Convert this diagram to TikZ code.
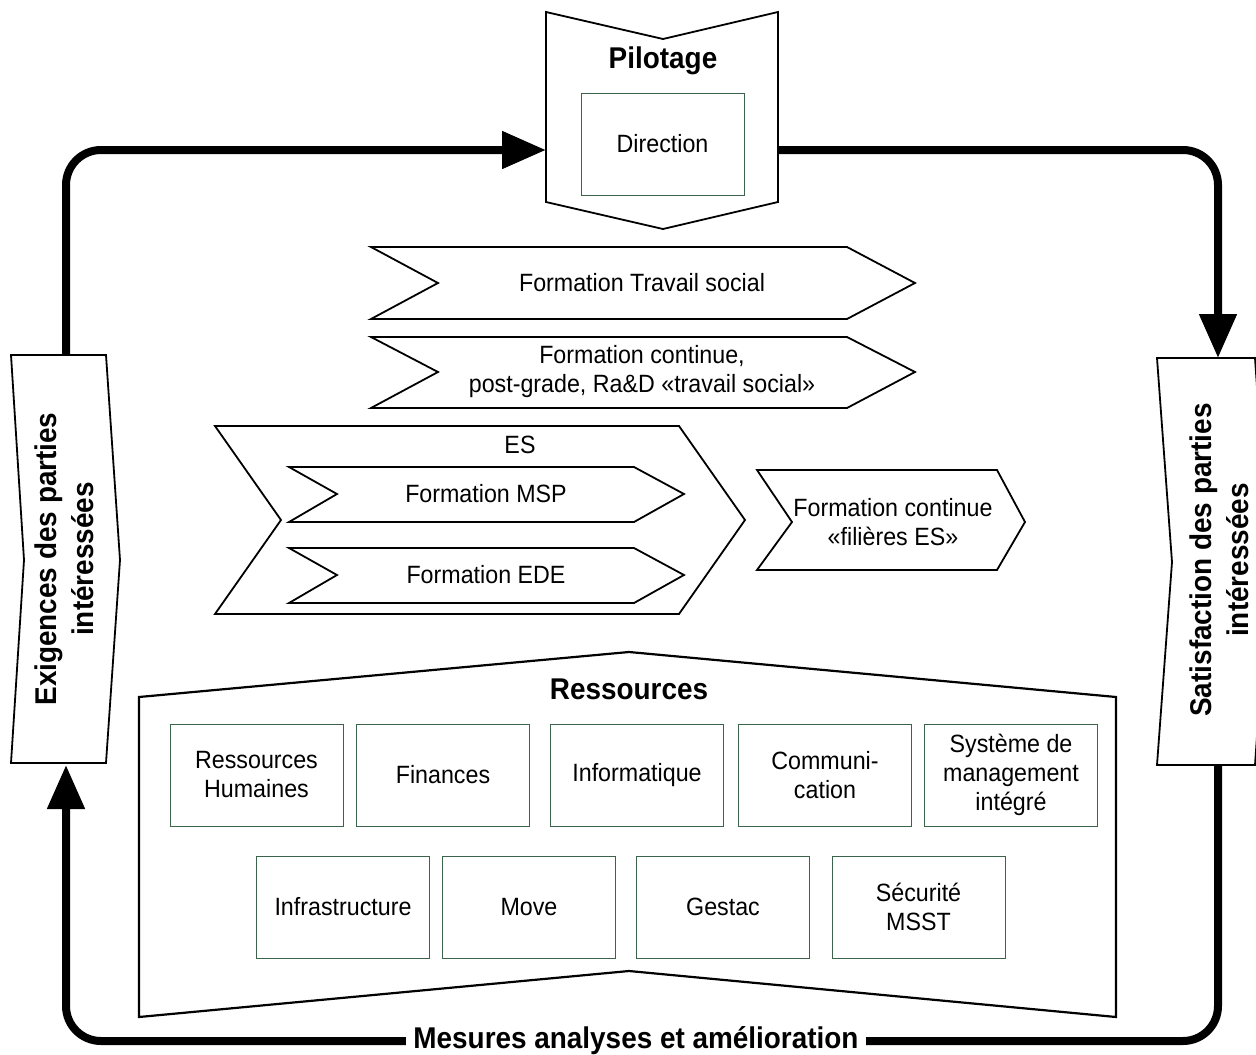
\documentclass[tikz,border=0pt]{standalone}
\usepackage{fontspec}
\setmainfont{Liberation Sans}
\usetikzlibrary{arrows.meta}
\definecolor{boxgreen}{RGB}{60,100,75}
\begin{document}
\begin{tikzpicture}[x=1pt,y=-1pt,
  shp/.style={draw=black,line width=1.8pt,line join=miter,fill=white},
  txt/.style={font=\fontsize{25}{29}\selectfont,align=center,inner sep=0pt,xscale=0.93,transform shape},
  ttl/.style={font=\bfseries\fontsize{30}{37}\selectfont,align=center,inner sep=0pt,xscale=0.93,transform shape},
  rbox/.style={draw=boxgreen,line width=1pt,minimum width=173pt,minimum height=102pt,inner sep=0pt},
  loopline/.style={line width=8pt,rounded corners=35pt},
  tipend/.style={-{Triangle[length=44pt,width=36pt]}}
]
\useasboundingbox (0,0) rectangle (1256,1055);

% side boxes
\draw[shp] (11,355)--(106,355)--(120,560)--(106,763)--(11,763)--(24,560)--cycle;
\node[rotate=90,ttl] (exig) at (64,559) {Exigences des parties\\intéressées};
\draw[shp] (1157,358)--(1255,358)--(1269,562)--(1255,765)--(1157,765)--(1172,562)--cycle;
\node[rotate=90,ttl] (satis) at (1219,560) {Satisfaction des parties\\intéressées};

% Pilotage
\draw[shp] (546,12)--(663,39)--(778,12)--(778,202)--(663,229)--(546,202)--cycle;
\node[ttl] (pil) at (663,61) {Pilotage};
\node[rbox,minimum width=163pt] (dir) at (662.5,144) {};
\node[txt] (dirt) at (dir.center) {Direction};

% chevrons
\draw[shp] (371,247)--(847,247)--(915,283)--(847,319)--(371,319)--(438,283)--cycle;
\node[txt] (fts) at (642,283) {Formation Travail social};
\draw[shp] (371,337)--(847,337)--(915,372)--(847,408)--(371,408)--(438,372)--cycle;
\node[txt] (fcp) at (642,372) {Formation continue,\\post-grade, Ra\&D «travail social»};

\draw[shp] (215,426)--(679,426)--(745,520)--(679,614)--(215,614)--(281,520)--cycle;
\node[txt] (es) at (520,445) {ES};
\draw[shp] (289,467)--(634,467)--(684,494)--(634,522)--(289,522)--(337,494)--cycle;
\node[txt] (msp) at (486,494) {Formation MSP};
\draw[shp] (289,548)--(634,548)--(684,575)--(634,603)--(289,603)--(337,575)--cycle;
\node[txt] (ede) at (486,575) {Formation EDE};

\draw[shp] (757,470)--(997,470)--(1025,522)--(997,570)--(757,570)--(792,522)--cycle;
\node[txt] (fces) at (893,522) {Formation continue\\«filières ES»};

% Ressources
\draw[shp,line width=2.2pt] (139,697)--(629,652)--(1116,697)--(1116,1017)--(629,971)--(139,1017)--cycle;
\node[ttl] (res) at (629,689) {Ressources};
\node[rbox] (rh)   at (256.5,775) {};
\node[rbox] (fin)  at (443,775) {};
\node[rbox] (info) at (637,775) {};
\node[rbox] (com)  at (825,775) {};
\node[rbox] (smi)  at (1011,775) {};
\node[rbox] (infra) at (343,907) {};
\node[rbox] (move) at (529,907) {};
\node[rbox] (gest) at (723,907) {};
\node[rbox] (secu) at (918.5,907) {};
\node[txt] at (rh.center) {Ressources\\Humaines};
\node[txt] at (fin.center) {Finances};
\node[txt] at (info.center) {Informatique};
\node[txt] at (com.center) {Communi-\\cation};
\node[txt] at (smi.center) {Système de\\management\\intégré};
\node[txt] at (infra.center) {Infrastructure};
\node[txt] at (move.center) {Move};
\node[txt] at (gest.center) {Gestac};
\node[txt] at (secu.center) {Sécurité\\MSST};

% loop
\node[ttl,inner xsep=8pt] (mes) at (636,1041) {Mesures analyses et amélioration};
\coordinate (lbTop) at (66,355);
\coordinate (lbBot) at (66,765);
\coordinate (rbTop) at (1218,358);
\coordinate (rbBot) at (1218,765);
\coordinate (pilW) at (546,150);
\coordinate (pilE) at (778,150);
\draw[loopline,tipend] (lbTop) |- (pilW);
\draw[loopline,tipend] (pilE) -| (rbTop);
\draw[loopline] (rbBot) |- (mes.east);
\draw[loopline,tipend] (mes.west) -| (lbBot);
\end{tikzpicture}
\end{document}
